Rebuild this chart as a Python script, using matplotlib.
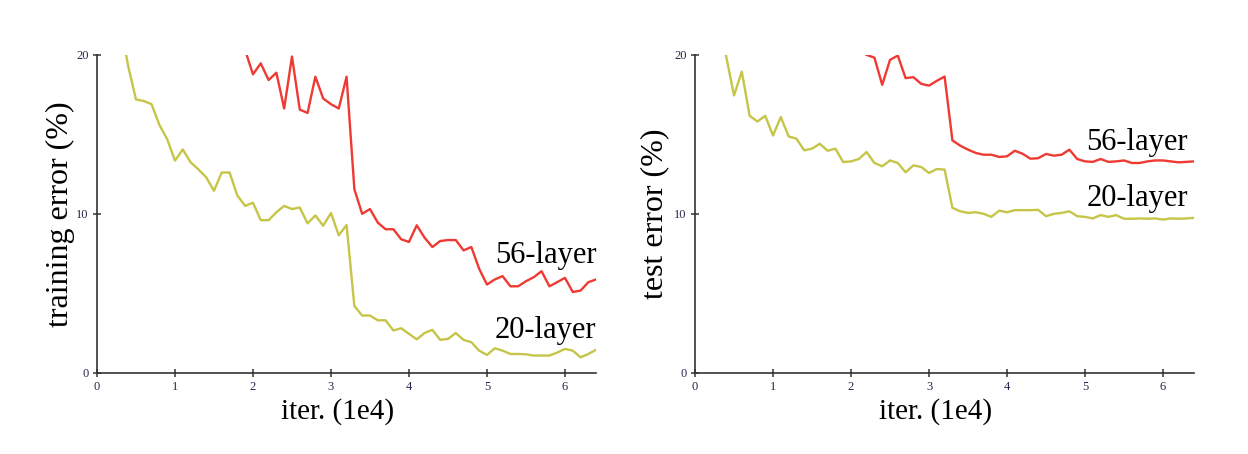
import numpy as np
import matplotlib
matplotlib.use("Agg")
from matplotlib import pyplot as plt

# iterations in units of 1e4
iter_20 = np.round(np.arange(3, 65) / 10, 1)   # 0.3 .. 6.4
iter_56_train = np.round(np.arange(19, 65) / 10, 1)  # 1.9 .. 6.4
iter_56_test = np.round(np.arange(22, 65) / 10, 1)   # 2.2 .. 6.4

# training error (%)
train_20 = [22.0, 19.3, 17.2, 17.1, 16.9, 15.6, 14.7, 13.35, 14.05, 13.25, 12.8,
            12.3, 11.45, 12.6, 12.6, 11.15, 10.5, 10.7, 9.6, 9.6, 10.1, 10.5,
            10.3, 10.4, 9.4, 9.9, 9.25, 10.05, 8.65, 9.3, 4.2, 3.6, 3.6, 3.3,
            3.3, 2.66, 2.8, 2.45, 2.1, 2.5, 2.7, 2.07, 2.13, 2.5, 2.07, 1.92,
            1.39, 1.12, 1.54, 1.39, 1.18, 1.18, 1.16, 1.08, 1.08, 1.08, 1.27,
            1.5, 1.39, 0.97, 1.18, 1.45]
train_56 = [20.3, 18.78, 19.47, 18.42, 18.88, 16.63, 19.9, 16.56, 16.35, 18.63,
            17.26, 16.9, 16.63, 18.63, 11.55, 10.0, 10.3, 9.45, 9.03, 9.03, 8.4,
            8.23, 9.28, 8.5, 7.91, 8.29, 8.35, 8.35, 7.7, 7.91, 6.54, 5.55, 5.87,
            6.08, 5.44, 5.44, 5.76, 6.01, 6.39, 5.44, 5.7, 5.97, 5.08, 5.17, 5.7,
            5.87]

# test error (%)
test_20 = [21.5, 19.9, 17.45, 18.95, 16.17, 15.81, 16.17, 14.93, 16.09, 14.87,
           14.73, 14.0, 14.1, 14.41, 13.97, 14.1, 13.26, 13.3, 13.45, 13.89,
           13.2, 12.99, 13.36, 13.2, 12.61, 13.05, 12.95, 12.57, 12.82, 12.78,
           10.38, 10.16, 10.06, 10.1, 10.0, 9.81, 10.2, 10.1, 10.23, 10.23,
           10.23, 10.25, 9.85, 10.0, 10.06, 10.16, 9.85, 9.81, 9.71, 9.92, 9.81,
           9.92, 9.69, 9.69, 9.71, 9.69, 9.71, 9.64, 9.71, 9.69, 9.71, 9.75]
test_56 = [20.0, 19.83, 18.12, 19.69, 19.96, 18.54, 18.6, 18.18, 18.07, 18.37,
           18.64, 14.62, 14.29, 14.04, 13.83, 13.72, 13.72, 13.58, 13.62, 13.97,
           13.78, 13.47, 13.5, 13.77, 13.66, 13.72, 14.04, 13.45, 13.3, 13.27,
           13.45, 13.27, 13.3, 13.36, 13.2, 13.2, 13.3, 13.36, 13.36, 13.3,
           13.24, 13.27, 13.3]

red = '#ef3a33'
olive = '#c5c548'
serif = 'Liberation Serif'
tick_color = '#26264f'

fig = plt.figure(figsize=(12.48, 4.54), dpi=100)
ax1 = fig.add_axes([0.0777, 0.179, 0.400, 0.700])
ax2 = fig.add_axes([0.5569, 0.179, 0.400, 0.700])

panels = [
    (ax1, train_20, train_56, iter_56_train, 'training error (%)',
     (6.4, 6.9), (6.4, 2.17), -0.045),
    (ax2, test_20, test_56, iter_56_test, 'test error (%)',
     (6.32, 14.04), (6.32, 10.48), -0.052),
]

for ax, y20, y56, x56, ylab, pos56, pos20, lx in panels:
    ax.plot(iter_20, y20, color=olive, lw=1.7)
    ax.plot(x56, y56, color=red, lw=1.7)
    ax.set_xlim(0, 6.4)
    ax.set_ylim(0, 20)
    ax.set_xticks(range(7))
    ax.set_yticks([0, 10, 20])
    ax.spines['top'].set_visible(False)
    ax.spines['right'].set_visible(False)
    for s in ('left', 'bottom'):
        ax.spines[s].set_linewidth(1.2)
        ax.spines[s].set_color('#333333')
    ax.tick_params(direction='inout', length=6, width=1.1, color='#333333',
                   labelsize=9, labelcolor=tick_color, pad=3)
    for lab in ax.get_xticklabels() + ax.get_yticklabels():
        lab.set_family(serif)
    ax.set_ylabel(ylab, family=serif, fontsize=23)
    ax.yaxis.set_label_coords(lx, 0.5)
    ax.set_xlabel('iter. (1e4)', family=serif, fontsize=21)
    ax.xaxis.set_label_coords(0.482, -0.08)
    ax.text(pos56[0], pos56[1], '56-layer', family=serif, fontsize=22,
            ha='right', va='baseline')
    ax.text(pos20[0], pos20[1], '20-layer', family=serif, fontsize=22,
            ha='right', va='baseline')

fig.savefig('out.png', dpi=100)
